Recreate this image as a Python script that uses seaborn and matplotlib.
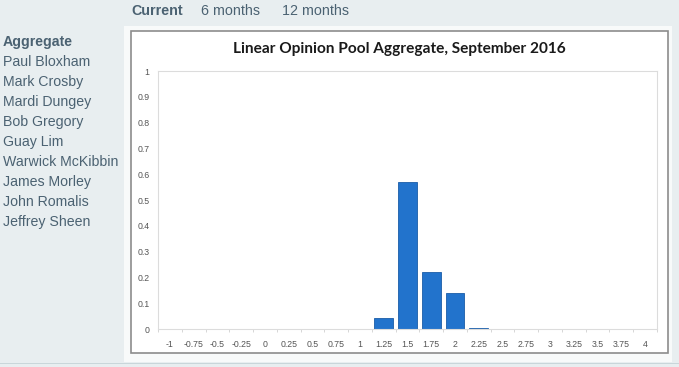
import matplotlib
matplotlib.use("Agg")
import matplotlib.pyplot as plt
import numpy as np
import pandas as pd
import seaborn as sns
from matplotlib.patches import Rectangle

# data
bins = ["-1", "-0.75", "-0.5", "-0.25", "0", "0.25", "0.5", "0.75", "1", "1.25",
        "1.5", "1.75", "2", "2.25", "2.5", "2.75", "3", "3.25", "3.5", "3.75", "4"]
probs = [0, 0, 0, 0, 0, 0, 0, 0, 0.002, 0.042,
         0.570, 0.220, 0.140, 0.006, 0, 0, 0, 0, 0, 0, 0]
y_ticks = [0, 0.1, 0.2, 0.3, 0.4, 0.5, 0.6, 0.7, 0.8, 0.9, 1]
y_tick_labels = ["0", "0.1", "0.2", "0.3", "0.4", "0.5", "0.6", "0.7", "0.8", "0.9", "1"]
tabs = ["Current", "6 months", "12 months"]
forecasters = ["Aggregate", "Paul Bloxham", "Mark Crosby", "Mardi Dungey", "Bob Gregory",
               "Guay Lim", "Warwick McKibbin", "James Morley", "John Romalis", "Jeffrey Sheen"]
title = "Linear Opinion Pool Aggregate, September 2016"

W, H = 679, 367
page_bg = "#e8eef0"
text_col = "#4b6272"

sns.set_theme(style="white")
plt.rcParams["font.family"] = ["Liberation Sans", "DejaVu Sans"]

fig = plt.figure(figsize=(W / 100, H / 100), dpi=100)
fig.patch.set_facecolor(page_bg)


def px_rect(x0, y0, x1, y1, **kw):
    # rectangle in pixel coords (top-left origin), kept behind the axes
    fig.patches.append(Rectangle((x0 / W, 1 - y1 / H), (x1 - x0) / W, (y1 - y0) / H,
                                 transform=fig.transFigure, figure=fig, zorder=-5, **kw))


# outer panel and chart box
px_rect(124, 26, 672, 362, facecolor="#f8fafa", edgecolor="none")
px_rect(0, 362.5, W, 364, facecolor="#c9d6da", edgecolor="none")
px_rect(131, 31, 667.5, 353, facecolor="white", edgecolor="#8c8c8c", linewidth=1.2)

# tabs
tab_x = [131, 201, 282]
for i, (t, x) in enumerate(zip(tabs, tab_x)):
    fig.text(x / W, 1 - 11 / H, t, ha="left", va="center", fontsize=10.3,
             color=text_col, fontweight="bold" if i == 0 else "normal")

# side list
for i, name in enumerate(forecasters):
    fig.text(3 / W, 1 - (42 + i * 20) / H, name, ha="left", va="center", fontsize=10.2,
             color=text_col, fontweight="bold" if i == 0 else "normal")

df = pd.DataFrame({"bin": bins, "prob": probs})

ax = fig.add_axes([158 / W, (H - 329.3) / H, (657 - 158) / W, (329.3 - 71) / H])
sns.barplot(data=df, x="bin", y="prob", order=bins, ax=ax, color="#2273cc",
            saturation=1, width=0.79, edgecolor="#1a5ca8", linewidth=0.6)
ax.set_xlim(-0.5, len(bins) - 0.5)
ax.set_ylim(0, 1)
ax.set_yticks(y_ticks)
ax.set_yticklabels(y_tick_labels)
ax.set_xticks(np.arange(len(bins) + 1) - 0.5, minor=True)
ax.set_xlabel("")
ax.set_ylabel("")
ax.tick_params(axis="both", which="major", labelsize=6.3, labelcolor="#555555",
               color="#d0d0d0", length=2, width=0.6, direction="out")
ax.tick_params(axis="x", which="major", length=0, pad=8)
ax.tick_params(axis="x", which="minor", length=2, width=0.6, color="#d0d0d0", bottom=True)
ax.tick_params(axis="y", pad=4)
for side in ax.spines:
    ax.spines[side].set_color("#dcdcdc")
    ax.spines[side].set_linewidth(0.8)
ax.set_facecolor("white")

fig.text(399 / W, 1 - 49 / H, title, ha="center", va="center", fontsize=11.1,
         fontweight="bold", color="#1a1a1a", family=["Lato", "DejaVu Sans"])

fig.savefig("out.png", dpi=100, facecolor=fig.get_facecolor())
